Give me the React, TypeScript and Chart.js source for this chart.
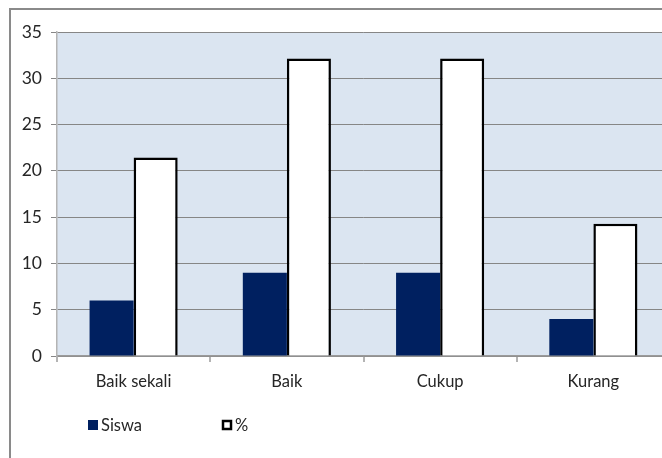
import React, { useEffect, useRef } from 'react';
import { Chart, registerables } from 'chart.js';

Chart.register(...registerables);

const categories = ['Baik sekali', 'Baik', 'Cukup', 'Kurang'];
const siswaValues = [6, 9, 9, 4];
const persenValues = [21.43, 32.14, 32.14, 14.29];
const seriesNames = ['Siswa', '%'];
const yMax = 35;
const yStep = 5;

const FONT = 'Lato, "Open Sans", sans-serif';

const bgPlugin = {
  id: 'bgPlugin',
  beforeDraw(chart: any) {
    const { ctx, chartArea } = chart;
    ctx.save();
    ctx.fillStyle = '#ffffff';
    ctx.fillRect(0, 0, chart.width, chart.height);
    ctx.strokeStyle = '#8a8a8a';
    ctx.lineWidth = 2;
    ctx.strokeRect(10, 9, chart.width + 50, chart.height + 50);
    ctx.fillStyle = '#dbe5f1';
    ctx.fillRect(chartArea.left, chartArea.top, chartArea.right - chartArea.left, chartArea.bottom - chartArea.top);
    ctx.restore();
  },
};

const legendPlugin = {
  id: 'customLegend',
  afterDraw(chart: any) {
    const { ctx } = chart;
    const ds = chart.data.datasets;
    const xs = [88, 222];
    const y = 425;
    ctx.save();
    ctx.font = `16.5px ${FONT}`;
    ctx.textBaseline = 'middle';
    ds.forEach((d: any, i: number) => {
      const x = xs[i];
      if (d.borderWidth) {
        ctx.fillStyle = d.backgroundColor;
        ctx.fillRect(x, y - 5, 10, 10);
        ctx.strokeStyle = d.borderColor;
        ctx.lineWidth = 2.5;
        ctx.strokeRect(x + 1, y - 4, 8, 8);
      } else {
        ctx.fillStyle = d.backgroundColor;
        ctx.fillRect(x, y - 5, 10, 10);
      }
      ctx.fillStyle = '#262626';
      ctx.textAlign = 'left';
      ctx.fillText(d.label, x + 13, y + 1);
    });
    ctx.restore();
  },
};

export default function App() {
  const ref = useRef<HTMLCanvasElement | null>(null);
  useEffect(() => {
    if (!ref.current) return;
    const chart = new Chart(ref.current, {
      type: 'bar',
      data: {
        labels: categories,
        datasets: [
          {
            label: seriesNames[0],
            data: siswaValues,
            backgroundColor: '#002060',
            borderWidth: 0,
            categoryPercentage: 0.575,
            barPercentage: 1,
          },
          {
            label: seriesNames[1],
            data: persenValues,
            backgroundColor: '#ffffff',
            borderColor: '#000000',
            borderWidth: 2.5,
            categoryPercentage: 0.575,
            barPercentage: 1,
          },
        ],
      },
      options: {
        responsive: false,
        animation: false,
        layout: { padding: { top: 32, left: 0, right: 0, bottom: 0 } },
        plugins: { legend: { display: false }, tooltip: { enabled: false } },
        scales: {
          x: {
            grid: {
              offset: true,
              drawOnChartArea: false,
              drawTicks: true,
              tickLength: 6,
              color: '#b4b4b4',
              lineWidth: 2,
            },
            border: { color: '#9a9a9a', width: 1.5 },
            ticks: { color: '#262626', font: { family: FONT, size: 16.5 }, padding: 10 },
            afterFit(scale: any) {
              scale.height = 102;
            },
          },
          y: {
            min: 0,
            max: yMax,
            ticks: { stepSize: yStep, color: '#262626', font: { family: FONT, size: 17.5 }, padding: 9 },
            grid: { color: '#868686', tickLength: 6, lineWidth: 1 },
            border: { color: '#b4b4b4', width: 1.5 },
            afterFit(scale: any) {
              scale.width = 57;
            },
          },
        },
      },
      plugins: [bgPlugin, legendPlugin],
    });
    return () => chart.destroy();
  }, []);
  return (
    <div style={{ position: 'fixed', left: 0, top: 0, width: 662, height: 458, overflow: 'hidden', background: '#fff' }}>
      <canvas ref={ref} width={670} height={458} style={{ display: 'block' }} />
    </div>
  );
}
